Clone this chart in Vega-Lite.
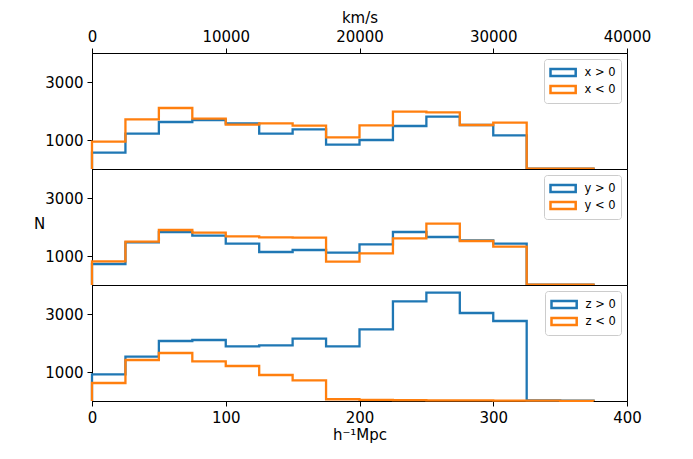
{
  "$schema": "https://vega.github.io/schema/vega-lite/v6.json",
  "padding": {"left": 32, "top": 9, "right": 10, "bottom": 10},
  "spacing": 0,
  "bounds": "flush",
  "background": "white",
  "config": {
    "font": "DejaVu Sans",
    "view": {"stroke": "black", "strokeWidth": 1},
    "axis": {
      "labelFont": "DejaVu Sans", "titleFont": "DejaVu Sans",
      "labelFontSize": 15, "titleFontSize": 15, "titleFontWeight": "normal",
      "labelColor": "black", "titleColor": "black", "tickColor": "black",
      "domainColor": "black", "tickSize": 5, "grid": false, "labelPadding": 4, "labelFlush": false
    },
    "legend": {
      "orient": "top-right", "offset": 6, "padding": 5,
      "strokeColor": "#cccccc", "fillColor": "white", "cornerRadius": 3,
      "labelFont": "DejaVu Sans", "labelFontSize": 11.5, "labelColor": "black",
      "symbolType": "M-1.8,-0.5H1.8V0.5H-1.8Z", "symbolSize": 196, "symbolStrokeWidth": 2.5,
      "symbolFillColor": "transparent", "symbolOffset": 5.6, "labelOffset": 13, "rowPadding": -1.5
    }
  },
  "datasets": {
    "h": [
      {"p":"x","s":"x > 0","g":"pos","i":0,"x":0,"n":0},
      {"p":"x","s":"x > 0","g":"pos","i":1,"x":0,"n":563},
      {"p":"x","s":"x > 0","g":"pos","i":2,"x":25,"n":1218},
      {"p":"x","s":"x > 0","g":"pos","i":3,"x":50,"n":1621},
      {"p":"x","s":"x > 0","g":"pos","i":4,"x":75,"n":1690},
      {"p":"x","s":"x > 0","g":"pos","i":5,"x":100,"n":1575},
      {"p":"x","s":"x > 0","g":"pos","i":6,"x":125,"n":1218},
      {"p":"x","s":"x > 0","g":"pos","i":7,"x":150,"n":1368},
      {"p":"x","s":"x > 0","g":"pos","i":8,"x":175,"n":839},
      {"p":"x","s":"x > 0","g":"pos","i":9,"x":200,"n":1000},
      {"p":"x","s":"x > 0","g":"pos","i":10,"x":225,"n":1483},
      {"p":"x","s":"x > 0","g":"pos","i":11,"x":250,"n":1805},
      {"p":"x","s":"x > 0","g":"pos","i":12,"x":275,"n":1517},
      {"p":"x","s":"x > 0","g":"pos","i":13,"x":300,"n":1161},
      {"p":"x","s":"x > 0","g":"pos","i":14,"x":325,"n":15},
      {"p":"x","s":"x > 0","g":"pos","i":15,"x":350,"n":10},
      {"p":"x","s":"x > 0","g":"pos","i":16,"x":375,"n":0},
      {"p":"x","s":"x < 0","g":"neg","i":0,"x":0,"n":0},
      {"p":"x","s":"x < 0","g":"neg","i":1,"x":0,"n":943},
      {"p":"x","s":"x < 0","g":"neg","i":2,"x":25,"n":1713},
      {"p":"x","s":"x < 0","g":"neg","i":3,"x":50,"n":2103},
      {"p":"x","s":"x < 0","g":"neg","i":4,"x":75,"n":1736},
      {"p":"x","s":"x < 0","g":"neg","i":5,"x":100,"n":1529},
      {"p":"x","s":"x < 0","g":"neg","i":6,"x":125,"n":1575},
      {"p":"x","s":"x < 0","g":"neg","i":7,"x":150,"n":1494},
      {"p":"x","s":"x < 0","g":"neg","i":8,"x":175,"n":1092},
      {"p":"x","s":"x < 0","g":"neg","i":9,"x":200,"n":1506},
      {"p":"x","s":"x < 0","g":"neg","i":10,"x":225,"n":1977},
      {"p":"x","s":"x < 0","g":"neg","i":11,"x":250,"n":1954},
      {"p":"x","s":"x < 0","g":"neg","i":12,"x":275,"n":1517},
      {"p":"x","s":"x < 0","g":"neg","i":13,"x":300,"n":1598},
      {"p":"x","s":"x < 0","g":"neg","i":14,"x":325,"n":15},
      {"p":"x","s":"x < 0","g":"neg","i":15,"x":350,"n":10},
      {"p":"x","s":"x < 0","g":"neg","i":16,"x":375,"n":0},
      {"p":"y","s":"y > 0","g":"pos","i":0,"x":0,"n":0},
      {"p":"y","s":"y > 0","g":"pos","i":1,"x":0,"n":724},
      {"p":"y","s":"y > 0","g":"pos","i":2,"x":25,"n":1471},
      {"p":"y","s":"y > 0","g":"pos","i":3,"x":50,"n":1828},
      {"p":"y","s":"y > 0","g":"pos","i":4,"x":75,"n":1701},
      {"p":"y","s":"y > 0","g":"pos","i":5,"x":100,"n":1425},
      {"p":"y","s":"y > 0","g":"pos","i":6,"x":125,"n":1138},
      {"p":"y","s":"y > 0","g":"pos","i":7,"x":150,"n":1207},
      {"p":"y","s":"y > 0","g":"pos","i":8,"x":175,"n":1115},
      {"p":"y","s":"y > 0","g":"pos","i":9,"x":200,"n":1402},
      {"p":"y","s":"y > 0","g":"pos","i":10,"x":225,"n":1828},
      {"p":"y","s":"y > 0","g":"pos","i":11,"x":250,"n":1655},
      {"p":"y","s":"y > 0","g":"pos","i":12,"x":275,"n":1540},
      {"p":"y","s":"y > 0","g":"pos","i":13,"x":300,"n":1425},
      {"p":"y","s":"y > 0","g":"pos","i":14,"x":325,"n":15},
      {"p":"y","s":"y > 0","g":"pos","i":15,"x":350,"n":10},
      {"p":"y","s":"y > 0","g":"pos","i":16,"x":375,"n":0},
      {"p":"y","s":"y < 0","g":"neg","i":0,"x":0,"n":0},
      {"p":"y","s":"y < 0","g":"neg","i":1,"x":0,"n":816},
      {"p":"y","s":"y < 0","g":"neg","i":2,"x":25,"n":1494},
      {"p":"y","s":"y < 0","g":"neg","i":3,"x":50,"n":1897},
      {"p":"y","s":"y < 0","g":"neg","i":4,"x":75,"n":1805},
      {"p":"y","s":"y < 0","g":"neg","i":5,"x":100,"n":1678},
      {"p":"y","s":"y < 0","g":"neg","i":6,"x":125,"n":1644},
      {"p":"y","s":"y < 0","g":"neg","i":7,"x":150,"n":1632},
      {"p":"y","s":"y < 0","g":"neg","i":8,"x":175,"n":805},
      {"p":"y","s":"y < 0","g":"neg","i":9,"x":200,"n":1092},
      {"p":"y","s":"y < 0","g":"neg","i":10,"x":225,"n":1609},
      {"p":"y","s":"y < 0","g":"neg","i":11,"x":250,"n":2115},
      {"p":"y","s":"y < 0","g":"neg","i":12,"x":275,"n":1517},
      {"p":"y","s":"y < 0","g":"neg","i":13,"x":300,"n":1322},
      {"p":"y","s":"y < 0","g":"neg","i":14,"x":325,"n":15},
      {"p":"y","s":"y < 0","g":"neg","i":15,"x":350,"n":10},
      {"p":"y","s":"y < 0","g":"neg","i":16,"x":375,"n":0},
      {"p":"z","s":"z > 0","g":"pos","i":0,"x":0,"n":0},
      {"p":"z","s":"z > 0","g":"pos","i":1,"x":0,"n":920},
      {"p":"z","s":"z > 0","g":"pos","i":2,"x":25,"n":1529},
      {"p":"z","s":"z > 0","g":"pos","i":3,"x":50,"n":2069},
      {"p":"z","s":"z > 0","g":"pos","i":4,"x":75,"n":2103},
      {"p":"z","s":"z > 0","g":"pos","i":5,"x":100,"n":1885},
      {"p":"z","s":"z > 0","g":"pos","i":6,"x":125,"n":1920},
      {"p":"z","s":"z > 0","g":"pos","i":7,"x":150,"n":2149},
      {"p":"z","s":"z > 0","g":"pos","i":8,"x":175,"n":1885},
      {"p":"z","s":"z > 0","g":"pos","i":9,"x":200,"n":2471},
      {"p":"z","s":"z > 0","g":"pos","i":10,"x":225,"n":3437},
      {"p":"z","s":"z > 0","g":"pos","i":11,"x":250,"n":3736},
      {"p":"z","s":"z > 0","g":"pos","i":12,"x":275,"n":3034},
      {"p":"z","s":"z > 0","g":"pos","i":13,"x":300,"n":2759},
      {"p":"z","s":"z > 0","g":"pos","i":14,"x":325,"n":20},
      {"p":"z","s":"z > 0","g":"pos","i":15,"x":350,"n":10},
      {"p":"z","s":"z > 0","g":"pos","i":16,"x":375,"n":0},
      {"p":"z","s":"z < 0","g":"neg","i":0,"x":0,"n":0},
      {"p":"z","s":"z < 0","g":"neg","i":1,"x":0,"n":621},
      {"p":"z","s":"z < 0","g":"neg","i":2,"x":25,"n":1414},
      {"p":"z","s":"z < 0","g":"neg","i":3,"x":50,"n":1655},
      {"p":"z","s":"z < 0","g":"neg","i":4,"x":75,"n":1368},
      {"p":"z","s":"z < 0","g":"neg","i":5,"x":100,"n":1207},
      {"p":"z","s":"z < 0","g":"neg","i":6,"x":125,"n":897},
      {"p":"z","s":"z < 0","g":"neg","i":7,"x":150,"n":713},
      {"p":"z","s":"z < 0","g":"neg","i":8,"x":175,"n":60},
      {"p":"z","s":"z < 0","g":"neg","i":9,"x":200,"n":40},
      {"p":"z","s":"z < 0","g":"neg","i":10,"x":225,"n":30},
      {"p":"z","s":"z < 0","g":"neg","i":11,"x":250,"n":25},
      {"p":"z","s":"z < 0","g":"neg","i":12,"x":275,"n":20},
      {"p":"z","s":"z < 0","g":"neg","i":13,"x":300,"n":15},
      {"p":"z","s":"z < 0","g":"neg","i":14,"x":325,"n":10},
      {"p":"z","s":"z < 0","g":"neg","i":15,"x":350,"n":5},
      {"p":"z","s":"z < 0","g":"neg","i":16,"x":375,"n":0}
    ]
  },
  "data": {"name": "h"},
  "resolve": {"scale": {"color": "independent"}, "legend": {"color": "independent"}},
  "vconcat": [
    {
      "width": 535, "height": 116,
      "transform": [{"filter": "datum.p == 'x'"}],
      "encoding": {
        "x": {"field": "x", "type": "quantitative", "scale": {"domain": [0, 400], "nice": false},
              "axis": {"orient": "top", "values": [0, 100, 200, 300, 400], "labelExpr": "format(datum.value * 100, 'd')", "title": "km/s", "titlePadding": 4}},
        "y": {"field": "n", "type": "quantitative", "scale": {"domain": [0, 4000], "nice": false},
              "axis": {"values": [1000, 3000], "format": "d", "title": null}},
        "color": {"field": "s", "type": "nominal", "scale": {"domain": ["x > 0", "x < 0"], "range": ["#1f77b4", "#ff7f0e"]}, "legend": {"title": null}},
        "order": {"field": "i", "type": "quantitative"}
      },
      "layer": [
        {"transform": [{"filter": "datum.g == 'pos'"}], "mark": {"type": "line", "interpolate": "step-after", "strokeWidth": 2.3}},
        {"transform": [{"filter": "datum.g == 'neg'"}], "mark": {"type": "line", "interpolate": "step-after", "strokeWidth": 2.3}}
      ]
    },
    {
      "width": 535, "height": 116,
      "transform": [{"filter": "datum.p == 'y'"}],
      "encoding": {
        "x": {"field": "x", "type": "quantitative", "scale": {"domain": [0, 400], "nice": false}, "axis": null},
        "y": {"field": "n", "type": "quantitative", "scale": {"domain": [0, 4000], "nice": false},
              "axis": {"values": [1000, 3000], "format": "d", "title": "N", "titleAngle": 0, "titleX": -53, "titleY": 54, "titleAlign": "center", "titleBaseline": "middle"}},
        "color": {"field": "s", "type": "nominal", "scale": {"domain": ["y > 0", "y < 0"], "range": ["#1f77b4", "#ff7f0e"]}, "legend": {"title": null}},
        "order": {"field": "i", "type": "quantitative"}
      },
      "layer": [
        {"transform": [{"filter": "datum.g == 'pos'"}], "mark": {"type": "line", "interpolate": "step-after", "strokeWidth": 2.3}},
        {"transform": [{"filter": "datum.g == 'neg'"}], "mark": {"type": "line", "interpolate": "step-after", "strokeWidth": 2.3}}
      ]
    },
    {
      "width": 535, "height": 116,
      "transform": [{"filter": "datum.p == 'z'"}],
      "encoding": {
        "x": {"field": "x", "type": "quantitative", "scale": {"domain": [0, 400], "nice": false},
              "axis": {"values": [0, 100, 200, 300, 400], "format": "d", "title": "h⁻¹Mpc", "titlePadding": 2}},
        "y": {"field": "n", "type": "quantitative", "scale": {"domain": [0, 4000], "nice": false},
              "axis": {"values": [1000, 3000], "format": "d", "title": null}},
        "color": {"field": "s", "type": "nominal", "scale": {"domain": ["z > 0", "z < 0"], "range": ["#1f77b4", "#ff7f0e"]}, "legend": {"title": null}},
        "order": {"field": "i", "type": "quantitative"}
      },
      "layer": [
        {"transform": [{"filter": "datum.g == 'pos'"}], "mark": {"type": "line", "interpolate": "step-after", "strokeWidth": 2.3}},
        {"transform": [{"filter": "datum.g == 'neg'"}], "mark": {"type": "line", "interpolate": "step-after", "strokeWidth": 2.3}}
      ]
    }
  ]
}
